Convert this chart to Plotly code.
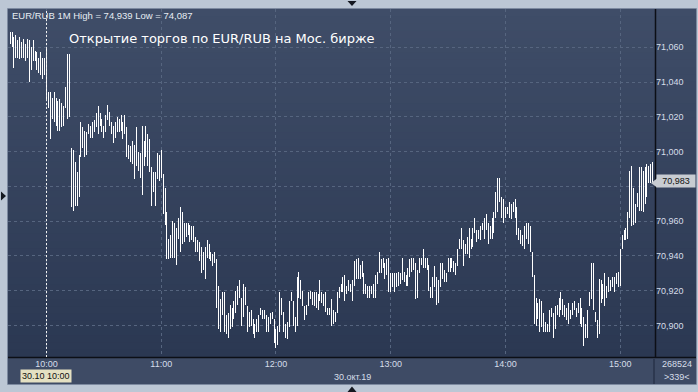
import plotly.graph_objects as go
import pandas as pd

# ---- data: 1-minute EUR/RUB bars, 30 Oct 2019 ----
start_time = "2019-10-30 09:41"
highs = [
    71.069, 71.069, 71.066, 71.067, 71.064, 71.066, 71.063, 71.065, 71.062, 71.065,
    71.064, 71.060, 71.064, 71.058, 71.057, 71.054, 71.057, 71.054, 71.054, 71.060,
    71.034, 71.034, 71.031, 71.034, 71.031, 71.029, 71.030, 71.028, 71.026, 71.037,
    71.056, 71.056, 71.002, 71.001, 70.994, 70.988, 70.998, 71.017, 71.014, 71.012,
    71.011, 71.016, 71.015, 71.017, 71.018, 71.022, 71.026, 71.022, 71.019, 71.015,
    71.021, 71.027, 71.023, 71.017, 71.015, 71.017, 71.020, 71.019, 71.021, 71.017,
    71.021,
    71.014, 71.004, 71.003, 71.006, 71.004, 71.014, 71.000, 70.999, 71.015, 71.006,
    71.015, 71.010, 71.007, 70.991, 70.988, 70.988, 70.999, 70.998, 71.001, 70.987,
    70.979,
    70.965, 70.950, 70.952, 70.960, 70.959, 70.956, 70.962, 70.968, 70.965, 70.959,
    70.959, 70.959, 70.958, 70.957, 70.957, 70.951, 70.949, 70.948, 70.945, 70.942,
    70.945, 70.949, 70.947, 70.942, 70.941, 70.942, 70.938, 70.923, 70.915, 70.919,
    70.919, 70.906, 70.907, 70.912, 70.910, 70.914, 70.920, 70.923, 70.926, 70.916,
    70.924, 70.922, 70.911, 70.908, 70.909, 70.904, 70.901, 70.904, 70.906, 70.910,
    70.909, 70.909, 70.906, 70.905, 70.907, 70.908, 70.904, 70.898, 70.900, 70.919,
    70.916, 70.908, 70.901, 70.902, 70.914, 70.919, 70.914, 70.905, 70.928, 70.931,
    70.926, 70.920, 70.911, 70.912, 70.919, 70.920, 70.919, 70.919, 70.919, 70.918,
    70.926, 70.919, 70.918, 70.919, 70.910,
    70.910, 70.915, 70.909, 70.908, 70.919, 70.922, 70.924, 70.928, 70.929, 70.923,
    70.926, 70.924, 70.926, 70.937, 70.938, 70.939, 70.935, 70.937, 70.930, 70.924,
    70.923, 70.923, 70.923, 70.924, 70.929, 70.931, 70.942, 70.938, 70.939, 70.936,
    70.938, 70.939, 70.930, 70.930, 70.930, 70.930, 70.931, 70.930, 70.939, 70.931,
    70.929, 70.933, 70.938, 70.939, 70.939, 70.936, 70.932, 70.939, 70.939, 70.944,
    70.939, 70.939, 70.935, 70.922, 70.928, 70.934, 70.928, 70.926, 70.936, 70.936,
    70.932, 70.930, 70.939, 70.939, 70.939, 70.937, 70.936, 70.944, 70.950, 70.956,
    70.949, 70.947, 70.951, 70.956, 70.950, 70.956, 70.962, 70.955, 70.955, 70.957,
    70.959, 70.962, 70.964, 70.959, 70.957, 70.962, 70.965,
    70.977, 70.985, 70.985, 70.974, 70.973, 70.968, 70.968, 70.971, 70.970, 70.971,
    70.973, 70.968, 70.956, 70.955, 70.952, 70.957, 70.959, 70.959, 70.957, 70.942,
    70.929, 70.916, 70.913, 70.915, 70.914, 70.907, 70.902, 70.901, 70.909, 70.910,
    70.907, 70.911, 70.912, 70.916, 70.919, 70.915, 70.912, 70.910, 70.913, 70.909,
    70.913, 70.914, 70.910, 70.913, 70.916, 70.910, 70.905, 70.901, 70.909, 70.919,
    70.936, 70.936, 70.908, 70.903, 70.927, 70.926, 70.924, 70.930, 70.923, 70.928,
    70.926, 70.928, 70.928, 70.930, 70.931, 70.944, 70.952, 70.955, 70.956, 70.965,
    70.989, 70.992, 70.979, 70.970, 70.976, 70.991, 70.991, 70.989, 70.991, 70.993,
    70.992, 70.993, 70.994,
]
lows = [
    71.062, 71.060, 71.048, 71.054, 71.054, 71.053, 71.054, 71.054, 71.052, 71.054,
    71.040, 71.047, 71.052, 71.052, 71.047, 71.045, 71.044, 71.042, 71.044, 71.029,
    71.025, 71.007, 71.019, 71.017, 71.015, 71.012, 71.012, 71.014, 71.015, 71.025,
    71.019, 71.020, 70.968, 70.966, 70.969, 70.969, 70.974, 70.997, 71.002, 70.997,
    70.998, 71.010, 71.008, 71.008, 71.011, 71.014, 71.010, 71.015, 71.011, 71.008,
    71.011, 71.018, 71.015, 71.010, 71.005, 71.008, 71.011, 71.011, 71.012, 71.007,
    71.010,
    70.997, 70.996, 70.994, 70.993, 70.984, 70.992, 70.989, 70.985, 70.975, 70.992,
    70.997, 70.992, 70.988, 70.969, 70.977, 70.969, 70.984, 70.983, 70.985, 70.964,
    70.958,
    70.938, 70.938, 70.939, 70.939, 70.939, 70.935, 70.950, 70.942, 70.947, 70.948,
    70.951, 70.952, 70.948, 70.949, 70.948, 70.942, 70.942, 70.937, 70.930, 70.932,
    70.927, 70.939, 70.938, 70.937, 70.934, 70.936, 70.910, 70.898, 70.896, 70.906,
    70.896, 70.895, 70.893, 70.898, 70.899, 70.904, 70.907, 70.912, 70.916, 70.900,
    70.905, 70.912, 70.896, 70.899, 70.900, 70.895, 70.893, 70.896, 70.896, 70.906,
    70.904, 70.904, 70.896, 70.896, 70.901, 70.904, 70.890, 70.887, 70.889, 70.896,
    70.906, 70.896, 70.893, 70.892, 70.899, 70.914, 70.900, 70.896, 70.900, 70.916,
    70.915, 70.911, 70.903, 70.906, 70.911, 70.915, 70.912, 70.911, 70.910, 70.909,
    70.914, 70.913, 70.911, 70.908, 70.906,
    70.906, 70.900, 70.901, 70.902, 70.907, 70.916, 70.919, 70.919, 70.914, 70.918,
    70.920, 70.919, 70.914, 70.923, 70.927, 70.927, 70.927, 70.928, 70.918, 70.918,
    70.916, 70.916, 70.918, 70.916, 70.916, 70.924, 70.930, 70.930, 70.933, 70.927,
    70.929, 70.919, 70.919, 70.922, 70.919, 70.922, 70.923, 70.924, 70.926, 70.925,
    70.923, 70.923, 70.928, 70.931, 70.932, 70.915, 70.916, 70.930, 70.935, 70.933,
    70.933, 70.932, 70.920, 70.916, 70.916, 70.922, 70.912, 70.913, 70.922, 70.927,
    70.925, 70.925, 70.931, 70.931, 70.933, 70.931, 70.929, 70.934, 70.944, 70.944,
    70.934, 70.941, 70.941, 70.939, 70.944, 70.945, 70.953, 70.948, 70.950, 70.949,
    70.955, 70.950, 70.955, 70.947, 70.950, 70.950, 70.953,
    70.962, 70.965, 70.971, 70.962, 70.959, 70.962, 70.964, 70.962, 70.961, 70.965,
    70.962, 70.952, 70.949, 70.947, 70.946, 70.944, 70.950, 70.947, 70.942, 70.928,
    70.901, 70.900, 70.904, 70.896, 70.899, 70.896, 70.896, 70.896, 70.896, 70.905,
    70.893, 70.898, 70.906, 70.905, 70.909, 70.906, 70.905, 70.903, 70.901, 70.904,
    70.906, 70.909, 70.905, 70.907, 70.901, 70.899, 70.888, 70.893, 70.893, 70.911,
    70.915, 70.909, 70.902, 70.893, 70.895, 70.913, 70.915, 70.911, 70.916, 70.919,
    70.920, 70.922, 70.919, 70.924, 70.922, 70.923, 70.944, 70.949, 70.949, 70.950,
    70.962, 70.957, 70.958, 70.959, 70.968, 70.966, 70.966, 70.965, 70.970, 70.974,
    70.982, 70.982, 70.982,
]
last_price = 70.983
price_ticks = [70.90, 70.92, 70.94, 70.96, 70.98, 71.00, 71.02, 71.04, 71.06]
hour_ticks = ["10:00", "11:00", "12:00", "13:00", "14:00", "15:00"]
header_text = "EUR/RUB 1M High = 74,939 Low = 74,087"
title_text = "Открытие торгов по EUR/RUB на Мос. бирже"
date_label = "30.окт.19"
cursor_label = "30.10 10:00"
volume_label = "268524"
count_label = ">339<"

if len(highs) != len(lows):
    raise ValueError(f"length mismatch {len(highs)} {len(lows)}")

times = pd.date_range(start_time, periods=len(highs), freq="min")
day = "2019-10-30 "

# ---- geometry helpers (pixel -> paper) ----
W, H = 698, 392
L, R, T, B = 8, 43, 9, 35
PW, PH = W - L - R, H - T - B


def px(x):
    return (x - L) / PW


def py(y):
    return (H - B - y) / PH


fig = go.Figure()

xs, ys = [], []
for t, h, l in zip(times, highs, lows):
    xs += [t, t, None]
    ys += [l, h, None]
fig.add_trace(go.Scatter(x=xs, y=ys, mode="lines",
                         line=dict(color="#ffffff", width=1),
                         hoverinfo="skip", showlegend=False))

shapes = []
# gradient background for plot + right price panel
top_c = (63, 77, 104)
bot_c = (43, 56, 82)
N = 48
for i in range(N):
    f0 = i / N
    f1 = (i + 1) / N
    c = [round(top_c[k] + (bot_c[k] - top_c[k]) * (i + 0.5) / N) for k in range(3)]
    shapes.append(dict(type="rect", xref="paper", yref="paper", layer="below",
                       x0=0, x1=px(696), y0=1 - f1 - 0.002, y1=1 - f0,
                       fillcolor=f"rgb({c[0]},{c[1]},{c[2]})", line=dict(width=0)))
# bottom time panel
shapes.append(dict(type="rect", xref="paper", yref="paper", layer="below",
                   x0=0, x1=px(696), y0=py(384), y1=0,
                   fillcolor="rgb(62,75,101)", line=dict(width=0)))
# separators
shapes.append(dict(type="line", xref="paper", yref="paper", x0=px(655.5), x1=px(655.5),
                   y0=py(357), y1=1, line=dict(color="#0c0f16", width=1.5)))
shapes.append(dict(type="line", xref="paper", yref="paper", x0=0, x1=px(696),
                   y0=py(357.5), y1=py(357.5), line=dict(color="#0c0f16", width=1.5)))
shapes.append(dict(type="line", xref="paper", yref="paper", x0=px(654), x1=px(654),
                   y0=py(384), y1=py(359), line=dict(color="#28324a", width=1.5)))
# session start line at 10:00
shapes.append(dict(type="line", xref="x", yref="paper", x0=day + "10:00", x1=day + "10:00",
                   y0=0, y1=1, line=dict(color="#f0f0f0", width=1, dash="2px,2px")))
# outer border
shapes.append(dict(type="rect", xref="paper", yref="paper", x0=px(7.5), x1=px(696.5),
                   y0=py(384.5), y1=py(8.5), line=dict(color="#7d8aa0", width=1)))


def tri(points, color):
    p = "M " + " L ".join(f"{px(a):.5f},{py(b):.5f}" for a, b in points) + " Z"
    return dict(type="path", xref="paper", yref="paper", path=p,
                fillcolor=color, line=dict(width=0))


shapes.append(tri([(347.5, 1), (356.5, 1), (352, 6)], "#141820"))
shapes.append(tri([(347.5, 392), (356.5, 392), (352, 386.5)], "#141820"))
shapes.append(tri([(1, 191.5), (1, 200.5), (6, 196)], "#141820"))
shapes.append(tri([(651, 183), (657, 178.5), (657, 187.5)], "#c8ccd2"))

annotations = [
    dict(text=header_text, x=px(10), y=py(15), xref="paper", yref="paper",
         xanchor="left", yanchor="middle", showarrow=False,
         font=dict(family="Liberation Sans, Arial", size=9.5, color="#e6ecf3")),
    dict(text=title_text, x=px(67), y=py(39), xref="paper", yref="paper",
         xanchor="left", yanchor="middle", showarrow=False,
         font=dict(family="DejaVu Sans", size=13, color="#ffffff")),
    dict(text=cursor_label, x=px(46.3), y=py(376), xref="paper", yref="paper",
         xanchor="center", yanchor="middle", showarrow=False, bgcolor="#e4e0c2",
         borderpad=1, font=dict(family="Liberation Sans, Arial", size=9, color="#111111")),
    dict(text=date_label, x=px(352), y=py(376.5), xref="paper", yref="paper",
         xanchor="center", yanchor="middle", showarrow=False,
         font=dict(family="Liberation Sans, Arial", size=9, color="#d6dee9")),
    dict(text=volume_label, x=px(677), y=py(364), xref="paper", yref="paper",
         xanchor="center", yanchor="middle", showarrow=False,
         font=dict(family="Liberation Sans, Arial", size=9, color="#d6dee9")),
    dict(text=count_label, x=px(677), y=py(377), xref="paper", yref="paper",
         xanchor="center", yanchor="middle", showarrow=False,
         font=dict(family="Liberation Sans, Arial", size=9, color="#d6dee9")),
    dict(text=f"{last_price:.3f}".replace(".", ","), x=px(676.5), y=last_price,
         xref="paper", yref="y", xanchor="center", yanchor="middle", showarrow=False,
         bgcolor="#c8ccd2", borderpad=1, width=36,
         font=dict(family="Liberation Sans, Arial", size=9, color="#111111")),
]

# the 70,980 label sits under the last-price tag in the reference, so it is left blank
price_text = ["" if abs(v - 70.98) < 1e-9 else f"{v:.3f}".replace(".", ",") for v in price_ticks]

fig.update_layout(
    width=W, height=H,
    margin=dict(l=L, r=R, t=T, b=B),
    paper_bgcolor="#bcc7d5",
    plot_bgcolor="rgba(0,0,0,0)",
    separators=", ",
    showlegend=False,
    shapes=shapes,
    annotations=annotations,
    xaxis=dict(
        range=[day + "09:39:52", day + "15:18:12"],
        tickvals=[day + h for h in hour_ticks], ticktext=hour_ticks,
        showgrid=True, gridcolor="#56657f", griddash="3px,3px", gridwidth=1,
        zeroline=False, showline=False, ticks="",
        tickfont=dict(family="Liberation Sans, Arial", size=9, color="#d6dee9"),
        fixedrange=True,
    ),
    yaxis=dict(
        range=[70.8819, 71.0820], side="right",
        tickvals=price_ticks, ticktext=price_text,
        showgrid=True, gridcolor="#56657f", griddash="3px,3px", gridwidth=1,
        zeroline=False, showline=False, ticks="",
        tickfont=dict(family="Liberation Sans, Arial", size=9, color="#d6dee9"),
        fixedrange=True,
    ),
)

crisp_js = (
    "var s=document.createElement('style');"
    "s.innerHTML='.scatterlayer path.js-line, .gridlayer path {shape-rendering: crispEdges;}';"
    "document.head.appendChild(s);"
)
fig.write_html("out.html", post_script=crisp_js)
